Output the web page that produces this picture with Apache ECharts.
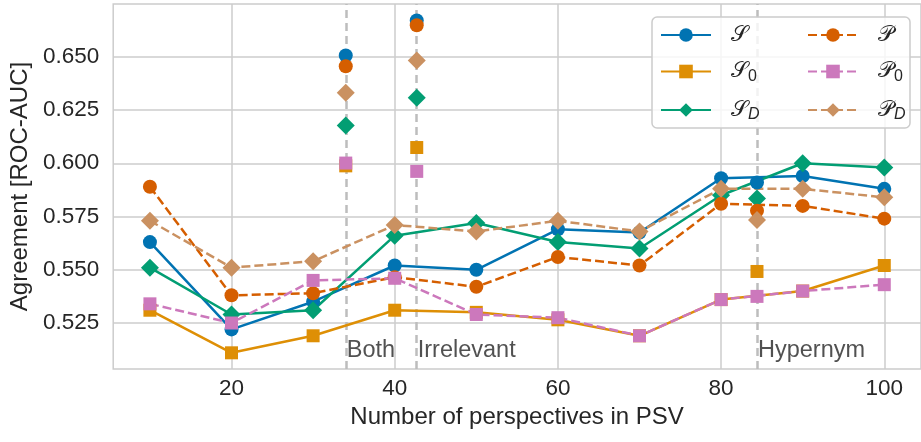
<!DOCTYPE html>
<html>
<head>
<meta charset="utf-8">
<script src="https://cdn.jsdelivr.net/npm/echarts@6/dist/echarts.min.js"></script>
<style>
  html, body { margin: 0; padding: 0; background: #fff; }
  #chart { width: 921px; height: 442px; }
</style>
</head>
<body>
<div id="chart"></div>
<script>
// number of perspectives on the x axis
const perspectives = [10, 20, 30, 40, 50, 60, 70, 80, 90, 100];

// agreement per method
const S  = [0.563, 0.522, 0.535, 0.552, 0.550, 0.569, 0.5675, 0.593, 0.594, 0.588];
const S0 = [0.531, 0.511, 0.519, 0.531, 0.530, 0.5265, 0.519, 0.536, 0.540, 0.552];
const SD = [0.551, 0.529, 0.531, 0.566, 0.572, 0.563, 0.560, 0.585, 0.600, 0.598];
const P  = [0.589, 0.538, 0.539, 0.5465, 0.542, 0.556, 0.552, 0.581, 0.580, 0.574];
const P0 = [0.534, 0.525, 0.545, 0.546, 0.529, 0.5275, 0.519, 0.536, 0.540, 0.543];
const PD = [0.573, 0.551, 0.554, 0.571, 0.568, 0.573, 0.568, 0.588, 0.588, 0.584];

// perspective types (vertical dashed lines) and their separate scores
const typeNames = ['Both', 'Irrelevant', 'Hypernym'];
const typePerspectives = [34, 42.7, 84.4];
const typeS  = [0.6506, 0.6671, 0.591];
const typeS0 = [0.5988, 0.6074, 0.5492];
const typeSD = [0.6178, 0.6308, 0.5835];
const typeP  = [0.6456, 0.6648, 0.5777];
const typeP0 = [0.6001, 0.5962, 0.5375];
const typePD = [0.6331, 0.6483, 0.5734];
const typeLabelLevel = 0.5122;

const xTicks = [20, 40, 60, 80, 100];
const yTicks = [0.525, 0.55, 0.575, 0.6, 0.625, 0.65];

const methods = [
    { name: 'S',  values: S,  types: typeS,  color: '#0173B2', symbol: 'circle',  dashed: false, label: '{m|𝒮}' },
    { name: 'S0', values: S0, types: typeS0, color: '#DE8F05', symbol: 'rect',    dashed: false, label: '{m|𝒮}{s|0}' },
    { name: 'SD', values: SD, types: typeSD, color: '#029E73', symbol: 'diamond', dashed: false, label: '{m|𝒮}{si|D}' },
    { name: 'P',  values: P,  types: typeP,  color: '#D55E00', symbol: 'circle',  dashed: true,  label: '{m|𝒫}' },
    { name: 'P0', values: P0, types: typeP0, color: '#CC78BC', symbol: 'rect',    dashed: true,  label: '{m|𝒫}{s|0}' },
    { name: 'PD', values: PD, types: typePD, color: '#CA9161', symbol: 'diamond', dashed: true,  label: '{m|𝒫}{si|D}' }
];
const symbolSizes = { circle: 14, rect: 13, diamond: 18 };

const textColor = '#262626';
const gridColor = '#cccccc';
const font = 'Liberation Sans, Arial, sans-serif';

const series = [];
// vertical dashed lines + their text, kept under the markers
series.push({
    type: 'line',
    name: 'types',
    z: 1,
    data: [],
    silent: true,
    markLine: {
        silent: true,
        z: 1,
        symbol: ['none', 'none'],
        label: { show: false },
        lineStyle: { color: '#bdbdbd', width: 2.5, type: [8, 5] },
        data: typePerspectives.map(x => ({ xAxis: x }))
    }
});
series.push({
    type: 'scatter',
    name: 'typeLabels',
    z: 1,
    silent: true,
    symbolSize: 0,
    data: typePerspectives.map((x, i) => [x, typeLabelLevel, typeNames[i]]),
    label: {
        show: true,
        position: 'right',
        distance: 1,
        formatter: p => p.data[2],
        color: textColor,
        fontFamily: font,
        fontSize: 23.5
    }
});
methods.forEach(m => {
    series.push({
        type: 'line',
        name: m.name,
        z: 3,
        data: perspectives.map((x, i) => [x, m.values[i]]),
        symbol: m.symbol,
        symbolSize: symbolSizes[m.symbol],
        showSymbol: true,
        color: m.color,
        lineStyle: { color: m.color, width: 2.5, type: m.dashed ? [9, 4] : 'solid' },
        itemStyle: { color: m.color }
    });
});
methods.forEach(m => {
    series.push({
        type: 'scatter',
        name: m.name + '-type',
        z: 4,
        data: typePerspectives.map((x, i) => [x, m.types[i]]),
        symbol: m.symbol,
        symbolSize: symbolSizes[m.symbol],
        itemStyle: { color: m.color, opacity: 1 }
    });
});

const labelByName = {};
methods.forEach(m => { labelByName[m.name] = m.label; });

// two legend columns sharing one framed box
const legendColumn = (names, left) => ({
    data: names,
    orient: 'vertical',
    left: left,
    top: 24,
    padding: 0,
    z: 6,
    itemGap: 14.5,
    itemWidth: 50,
    itemHeight: 17,
    formatter: name => labelByName[name],
    textStyle: {
        color: textColor,
        padding: [0, 0, 0, 15],
        rich: {
            m: { fontFamily: 'DejaVu Serif', fontSize: 22, color: textColor },
            s: { fontFamily: font, fontSize: 16, color: textColor, padding: [10, 0, 0, 0] },
            si: { fontFamily: font, fontStyle: 'italic', fontSize: 16, color: textColor, padding: [10, 0, 0, 0] }
        }
    }
});

const chart = echarts.init(document.getElementById('chart'));
chart.setOption({
    animation: false,
    backgroundColor: '#fff',
    grid: {
        left: 111,
        right: -6,
        top: 4,
        bottom: 73,
        show: true,
        borderColor: gridColor,
        borderWidth: 1.5
    },
    graphic: [{
        type: 'rect',
        z: 5,
        silent: true,
        shape: { x: 652, y: 17, width: 258, height: 111, r: 5 },
        style: { fill: 'rgba(255,255,255,0.8)', stroke: gridColor, lineWidth: 1.5 }
    }],
    xAxis: {
        type: 'value',
        min: 5.5,
        max: 104.5,
        name: 'Number of perspectives in PSV',
        nameLocation: 'middle',
        nameGap: 35,
        nameTextStyle: { color: textColor, fontFamily: font, fontSize: 24 },
        axisLine: { show: false },
        axisTick: { show: false, customValues: xTicks },
        axisLabel: { customValues: xTicks, color: textColor, fontFamily: font, fontSize: 22.5, margin: 8 },
        splitLine: { show: true, lineStyle: { color: gridColor, width: 1.5 } }
    },
    yAxis: {
        type: 'value',
        min: 0.5034,
        max: 0.6748,
        name: 'Agreement [ROC-AUC]',
        nameLocation: 'middle',
        nameGap: 81,
        nameTextStyle: { color: textColor, fontFamily: font, fontSize: 24 },
        axisLine: { show: false },
        axisTick: { show: false, customValues: yTicks },
        axisLabel: {
            customValues: yTicks,
            color: textColor,
            fontFamily: font,
            fontSize: 22.5,
            margin: 14,
            formatter: v => v.toFixed(3)
        },
        splitLine: { show: true, lineStyle: { color: gridColor, width: 1.5 } }
    },
    legend: [
        legendColumn(['S', 'S0', 'SD'], 660),
        legendColumn(['P', 'P0', 'PD'], 807)
    ],
    series: series
});
</script>
</body>
</html>
